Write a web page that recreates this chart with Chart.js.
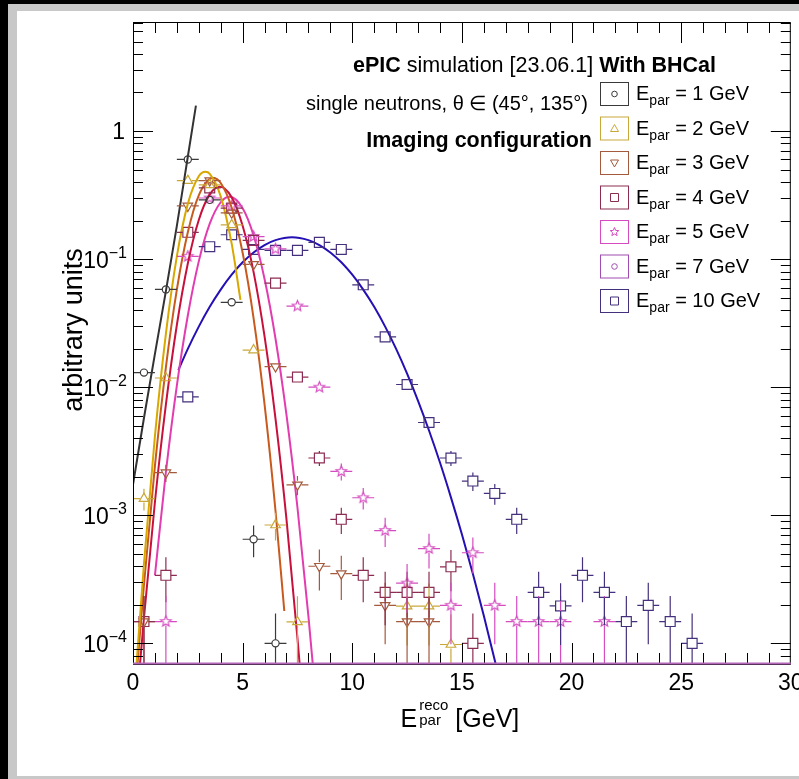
<!DOCTYPE html>
<html>
<head>
<meta charset="utf-8">
<title>Reconstructed neutron energy</title>
<script src="https://cdn.jsdelivr.net/npm/chart.js@4.4.0/dist/chart.umd.min.js"></script>
<style>
  html, body { margin: 0; padding: 0; background: #000; }
  #outer { position: absolute; left: 8px; top: 4px; width: 791px; height: 775px; background: #c8c8c8; }
  #inner { position: absolute; left: 17px; top: 11px; width: 782px; height: 765px; background: #fff; }
  #wrap { position: absolute; left: 0; top: 0; width: 799px; height: 779px; }
</style>
</head>
<body>
<div id="outer"></div>
<div id="inner"></div>
<div id="wrap"><canvas id="chart"></canvas></div>
<script>
// bin centres of the reconstructed energy histograms (1 GeV bins)
const BIN_CENTERS = [0.5, 1.5, 2.5, 3.5, 4.5, 5.5, 6.5, 7.5, 8.5, 9.5, 10.5, 11.5, 12.5,
  13.5, 14.5, 15.5, 16.5, 17.5, 18.5, 19.5, 20.5, 21.5, 22.5, 23.5, 24.5, 25.5];

// normalised bin contents, null = empty bin
const E1_VALUES = [0.013, 0.058, 0.60, 0.29, 0.046, 6.5e-4, 1.0e-4, null, null, null, null, null, null,
  null, null, null, null, null, null, null, null, null, null, null, null, null];
const E2_VALUES = [1.35e-3, 0.0118, 0.41, 0.38, 0.185, 0.0195, 8.4e-4, 1.47e-4, null, null, null, null, 1.95e-4,
  1.95e-4, 9.8e-5, null, null, null, null, null, null, null, null, null, null, null];
const E3_VALUES = [1.48e-4, 2.15e-3, 0.26, 0.41, 0.23, 0.091, 0.0145, 1.73e-3, 4.0e-4, 3.5e-4, null, 1.98e-4, 1.48e-4,
  1.48e-4, null, null, null, null, null, null, null, null, null, null, null, null];
const E4_VALUES = [1.48e-4, 3.4e-4, 0.162, 0.36, 0.25, 0.14, 0.065, 0.012, 2.8e-3, 9.3e-4, 3.4e-4, 2.5e-4, 2.5e-4,
  2.5e-4, 3.96e-4, 1.0e-4, null, null, null, null, null, null, null, null, null, null];
const E5_VALUES = [null, 1.48e-4, 0.105, 0.30, 0.26, 0.15, 0.12, 0.043, 0.010, 2.2e-3, 1.37e-3, 7.6e-4, 2.95e-4,
  5.5e-4, 1.98e-4, 5.1e-4, 1.98e-4, 1.48e-4, 1.48e-4, 1.48e-4, null, 1.48e-4, null, null, null, null];
const E7_VALUES = [];
const E10_VALUES = [null, null, 8.4e-3, 0.125, 0.155, 0.119, 0.117, 0.117, 0.135, 0.119, 0.063, 0.0247, 0.0105,
  5.3e-3, 2.8e-3, 1.85e-3, 1.48e-3, 9.3e-4, 2.5e-4, 1.96e-4, 3.4e-4, 2.5e-4, 1.48e-4, 1.98e-4, 1.48e-4, 1.0e-4];

// gaussian fit curves
const FIT1_X = [0, 0.5, 1.0, 1.5, 2.0, 2.5, 2.87];
const FIT1_Y = [1.74e-3, 5.75e-3, 0.0182, 0.0562, 0.182, 0.63, 1.58];
const FIT2_X = [0.1, 0.5, 1.0, 1.5, 2.0, 2.5, 3.0, 3.3, 3.5, 4.0, 4.5, 4.9];
const FIT2_Y = [4.9e-5, 4.2e-4, 4.15e-3, 0.0261, 0.105, 0.27, 0.443, 0.48, 0.463, 0.309, 0.132, 0.048];
const FIT3_X = [0.2, 0.5, 1.0, 1.5, 2.0, 2.5, 3.0, 3.65, 4.0, 4.5, 5.0, 5.5, 6.0, 6.5, 6.9];
const FIT3_Y = [6.7e-5, 2.87e-4, 2.43e-3, 0.0143, 0.0578, 0.162, 0.315, 0.43, 0.393, 0.252, 0.112, 0.0345, 7.35e-3, 1.08e-3, 1.79e-4];
const FIT4_X = [0.3, 0.5, 1.0, 1.5, 2.0, 2.5, 3.0, 3.5, 3.96, 4.5, 5.0, 5.5, 6.0, 6.5, 7.0, 7.5, 7.7];
const FIT4_Y = [6.3e-5, 1.58e-4, 1.27e-3, 7.3e-3, 0.0306, 0.0925, 0.202, 0.32, 0.367, 0.304, 0.182, 0.0792, 0.0249, 5.65e-3, 9.3e-4, 1.1e-4, 4.3e-5];
const FIT5_X = [1.0, 1.5, 2.0, 2.5, 3.0, 3.5, 4.0, 4.41, 5.0, 5.5, 6.0, 6.5, 7.0, 7.5, 8.0, 8.3];
const FIT5_Y = [3.4e-4, 2.17e-3, 0.0103, 0.0363, 0.096, 0.189, 0.278, 0.307, 0.25, 0.153, 0.07, 0.0239, 6.07e-3, 1.15e-3, 1.63e-4, 4.4e-5];
const FIT10_X = [2.07, 2.5, 3, 3.5, 4, 4.5, 5, 5.5, 6, 6.5, 7.25, 8, 8.5, 9, 9.5, 10, 10.5, 11, 11.5, 12,
  12.5, 13, 13.5, 14, 14.5, 15, 15.5, 16, 16.55];
const FIT10_Y = [0.0136, 0.0199, 0.0297, 0.0424, 0.0578, 0.0755, 0.0944, 0.1127, 0.1288, 0.1406, 0.148, 0.1406,
  0.1288, 0.1127, 0.0944, 0.0755, 0.0578, 0.0424, 0.0297, 0.0199, 0.01277, 7.83e-3, 4.59e-3, 2.58e-3,
  1.38e-3, 7.1e-4, 3.49e-4, 1.64e-4, 6.8e-5];

const ENERGY_LABELS = ['1', '2', '3', '4', '5', '7', '10'];
const X_TICKS = [0, 5, 10, 15, 20, 25, 30];
const Y_DECADES = [1e-4, 1e-3, 1e-2, 1e-1, 1];
const Y_DECADE_EXP = ['\u22124', '\u22123', '\u22122', '\u22121', ''];

// weight of one event, sets the size of the statistical error bars
const COUNT_WEIGHT = 5e-5;

const X_MIN = 0, X_MAX = 30;
const Y_MIN = 6.9e-5, Y_MAX = 7.1;

const FONT = '"Liberation Sans", Arial, Helvetica, sans-serif';

const SERIES = [
  { values: E1_VALUES, fitX: FIT1_X, fitY: FIT1_Y, marker: 'circle', color: '#3a3a3a', fit: '#333333' },
  { values: E2_VALUES, fitX: FIT2_X, fitY: FIT2_Y, marker: 'triangle', color: '#c9a83a', fit: '#d8a800' },
  { values: E3_VALUES, fitX: FIT3_X, fitY: FIT3_Y, marker: 'triangleDown', color: '#a45a3c', fit: '#c85a1e' },
  { values: E4_VALUES, fitX: FIT4_X, fitY: FIT4_Y, marker: 'rect', color: '#8c2c52', fit: '#c8103c' },
  { values: E5_VALUES, fitX: FIT5_X, fitY: FIT5_Y, marker: 'star', color: '#d44cc0', fit: '#e23cb0' },
  { values: E7_VALUES, fitX: null, fitY: null, marker: 'circle', color: '#a04cb0', fit: '#a04cb0' },
  { values: E10_VALUES, fitX: FIT10_X, fitY: FIT10_Y, marker: 'rect', color: '#44307c', fit: '#2410b4' }
];

// open five-pointed star used as point style
function starCanvas(color, r) {
  const c = document.createElement('canvas');
  const s = Math.ceil(2 * r + 4);
  c.width = s; c.height = s;
  const g = c.getContext('2d');
  g.strokeStyle = color;
  g.lineWidth = 1.2;
  g.beginPath();
  for (let k = 0; k < 10; k++) {
    const rr = k % 2 === 0 ? r : r * 0.45;
    const a = -Math.PI / 2 + k * Math.PI / 5;
    const px = s / 2 + rr * Math.cos(a), py = s / 2 + rr * Math.sin(a);
    if (k === 0) g.moveTo(px, py); else g.lineTo(px, py);
  }
  g.closePath();
  g.stroke();
  return c;
}

function markerOptions(s) {
  switch (s.marker) {
    case 'circle': return { pointStyle: 'circle', pointRadius: 3.6, gap: 3.6 };
    case 'triangle': return { pointStyle: 'triangle', pointRadius: 5.5, gap: 4 };
    case 'triangleDown': return { pointStyle: 'triangle', pointRotation: 180, pointRadius: 5.5, gap: 4 };
    case 'rect': return { pointStyle: 'rect', pointRadius: 7, gap: 5 };
    case 'star': return { pointStyle: starCanvas(s.color, 5.5), pointRadius: 5.5, gap: 4 };
  }
}

const datasets = [];
SERIES.forEach(s => {
  const m = markerOptions(s);
  const points = [];
  s.values.forEach((v, i) => { if (v !== null) points.push({ x: BIN_CENTERS[i], y: v }); });
  datasets.push({
    data: points,
    binned: true,
    gap: m.gap,
    pointStyle: m.pointStyle,
    pointRotation: m.pointRotation || 0,
    pointRadius: m.pointRadius,
    pointBorderWidth: 1.2,
    pointBorderColor: s.color,
    pointBackgroundColor: 'rgba(0,0,0,0)',
    borderColor: s.color,
    showLine: false
  });
  if (s.fitX) {
    datasets.push({
      data: s.fitX.map((x, i) => ({ x, y: s.fitY[i] })),
      showLine: true,
      borderColor: s.fit,
      borderWidth: 2,
      pointRadius: 0,
      cubicInterpolationMode: 'monotone'
    });
  }
});

// horizontal bin-width bars and vertical statistical errors, stopping at the marker
const errorBars = {
  id: 'errorBars',
  afterDatasetsDraw(chart) {
    const { ctx, chartArea: a, scales: { x, y } } = chart;
    ctx.save();
    ctx.beginPath();
    ctx.rect(a.left, a.top, a.right - a.left, a.bottom - a.top);
    ctx.clip();
    chart.data.datasets.forEach(ds => {
      if (!ds.binned) return;
      ctx.strokeStyle = ds.borderColor;
      ctx.lineWidth = 1.2;
      ds.data.forEach(p => {
        const px = x.getPixelForValue(p.x), py = y.getPixelForValue(p.y);
        const err = Math.sqrt(p.y * COUNT_WEIGHT);
        const xl = x.getPixelForValue(p.x - 0.5), xr = x.getPixelForValue(p.x + 0.5);
        const yt = y.getPixelForValue(p.y + err);
        const yb = p.y - err > 0 ? y.getPixelForValue(p.y - err) : a.bottom + 5;
        const g = ds.gap;
        ctx.beginPath();
        ctx.moveTo(xl, py); ctx.lineTo(px - g, py);
        ctx.moveTo(px + g, py); ctx.lineTo(xr, py);
        if (yt < py - g) { ctx.moveTo(px, py - g); ctx.lineTo(px, yt); }
        if (yb > py + g) { ctx.moveTo(px, py + g); ctx.lineTo(px, yb); }
        ctx.stroke();
      });
    });
    ctx.restore();
  }
};

// text made of runs with their own size, weight and vertical shift
function runWidth(ctx, runs) {
  let w = 0;
  runs.forEach(r => { ctx.font = (r.bold ? 'bold ' : '') + r.size + 'px ' + FONT; w += ctx.measureText(r.t).width; });
  return w;
}
function drawRuns(ctx, runs, x, y, align) {
  let cx = x;
  if (align === 'right') cx = x - runWidth(ctx, runs);
  if (align === 'center') cx = x - runWidth(ctx, runs) / 2;
  ctx.textAlign = 'left';
  ctx.textBaseline = 'alphabetic';
  runs.forEach(r => {
    ctx.font = (r.bold ? 'bold ' : '') + r.size + 'px ' + FONT;
    ctx.fillText(r.t, cx, y + (r.dy || 0));
    cx += ctx.measureText(r.t).width;
  });
  return cx;
}

function legendMarker(ctx, shape, cx, cy, color) {
  ctx.save();
  ctx.strokeStyle = color;
  ctx.lineWidth = 1;
  ctx.beginPath();
  if (shape === 'circle') {
    ctx.arc(cx, cy, 2.8, 0, Math.PI * 2);
  } else if (shape === 'triangle') {
    ctx.moveTo(cx, cy - 4); ctx.lineTo(cx + 4, cy + 3); ctx.lineTo(cx - 4, cy + 3); ctx.closePath();
  } else if (shape === 'triangleDown') {
    ctx.moveTo(cx, cy + 4); ctx.lineTo(cx + 4, cy - 3); ctx.lineTo(cx - 4, cy - 3); ctx.closePath();
  } else if (shape === 'rect') {
    ctx.rect(cx - 4, cy - 4, 8, 8);
  } else if (shape === 'star') {
    for (let k = 0; k < 10; k++) {
      const rr = k % 2 === 0 ? 4.5 : 2;
      const ang = -Math.PI / 2 + k * Math.PI / 5;
      const px = cx + rr * Math.cos(ang), py = cy + rr * Math.sin(ang);
      if (k === 0) ctx.moveTo(px, py); else ctx.lineTo(px, py);
    }
    ctx.closePath();
  }
  ctx.stroke();
  ctx.restore();
}

// frame with inward ticks on all sides, labels, titles and legend
const frameAndText = {
  id: 'frameAndText',
  afterDraw(chart) {
    const { ctx, chartArea: a, scales: { x, y } } = chart;
    ctx.save();
    ctx.strokeStyle = '#000';
    ctx.fillStyle = '#000';
    ctx.lineWidth = 1;
    ctx.strokeRect(a.left + 0.5, a.top + 0.5, a.right - a.left - 1, a.bottom - a.top);

    ctx.beginPath();
    for (let v = X_MIN + 1; v < X_MAX; v++) {
      const px = Math.round(x.getPixelForValue(v)) + 0.5;
      const len = v % 5 === 0 ? 21 : 11;
      ctx.moveTo(px, a.bottom); ctx.lineTo(px, a.bottom - len);
      ctx.moveTo(px, a.top); ctx.lineTo(px, a.top + len);
    }
    for (let e = -5; e <= 1; e++) {
      for (let m = 1; m <= 9; m++) {
        const v = m * Math.pow(10, e);
        if (v < Y_MIN || v > Y_MAX) continue;
        const py = Math.round(y.getPixelForValue(v)) + 0.5;
        const len = m === 1 ? 20 : 10;
        ctx.moveTo(a.left, py); ctx.lineTo(a.left + len, py);
        ctx.moveTo(a.right, py); ctx.lineTo(a.right - len, py);
      }
    }
    ctx.stroke();

    // empty bins sit on the lower edge
    ctx.strokeStyle = '#b466b8';
    ctx.lineWidth = 2;
    ctx.beginPath();
    ctx.moveTo(a.left, a.bottom - 0.5); ctx.lineTo(a.right, a.bottom - 0.5);
    ctx.stroke();

    // x tick labels
    ctx.fillStyle = '#000';
    X_TICKS.forEach(v => {
      drawRuns(ctx, [{ t: String(v), size: 23 }], x.getPixelForValue(v), a.bottom + 26, 'center');
    });
    // y tick labels
    Y_DECADES.forEach((v, i) => {
      const py = y.getPixelForValue(v);
      if (Y_DECADE_EXP[i]) {
        drawRuns(ctx, [{ t: '10', size: 23 }, { t: Y_DECADE_EXP[i], size: 16, dy: -10 }], 127, py + 9, 'right');
      } else {
        drawRuns(ctx, [{ t: '1', size: 23 }], 125, py + 8, 'right');
      }
    });

    // x title with stacked super- and subscript
    const cx = (a.left + a.right) / 2 - 2;
    ctx.font = '25px ' + FONT;
    const wE = ctx.measureText('E').width;
    ctx.font = '15px ' + FONT;
    const wS = Math.max(ctx.measureText('reco').width, ctx.measureText('par').width);
    ctx.font = '25px ' + FONT;
    const wG = ctx.measureText(' [GeV]').width;
    let tx = cx - (wE + 2 + wS + wG) / 2;
    drawRuns(ctx, [{ t: 'E', size: 25 }], tx, 727, 'left');
    drawRuns(ctx, [{ t: 'reco', size: 15 }], tx + wE + 2, 710, 'left');
    drawRuns(ctx, [{ t: 'par', size: 15 }], tx + wE + 2, 725, 'left');
    drawRuns(ctx, [{ t: ' [GeV]', size: 25 }], tx + wE + 2 + wS, 727, 'left');

    // y title
    ctx.save();
    ctx.translate(82, 330);
    ctx.rotate(-Math.PI / 2);
    drawRuns(ctx, [{ t: 'arbitrary units', size: 27 }], 0, 0, 'center');
    ctx.restore();

    // header lines
    drawRuns(ctx, [{ t: 'ePIC', size: 21.5, bold: true }, { t: ' simulation [23.06.1] ', size: 21.5 },
      { t: 'With BHCal', size: 21.5, bold: true }], 353, 72, 'left');
    drawRuns(ctx, [{ t: 'single neutrons, \u03b8 \u2208 (45\u00b0, 135\u00b0)', size: 20 }], 588, 110, 'right');
    drawRuns(ctx, [{ t: 'Imaging configuration', size: 21.5, bold: true }], 592, 147, 'right');

    // legend
    SERIES.forEach((s, i) => {
      const base = 100 + 34.5 * i;
      const by = base - 6;
      ctx.strokeStyle = s.color;
      ctx.lineWidth = 1;
      ctx.strokeRect(600.5, by - 11.5, 28, 23);
      legendMarker(ctx, s.marker, 614.5, by, s.color);
      ctx.fillStyle = '#000';
      let ex = drawRuns(ctx, [{ t: 'E', size: 20 }], 636, base, 'left');
      ex = drawRuns(ctx, [{ t: 'par', size: 14 }], ex, base + 5, 'left');
      drawRuns(ctx, [{ t: ' = ' + ENERGY_LABELS[i] + ' GeV', size: 20 }], ex, base, 'left');
    });
    ctx.restore();
  }
};

new Chart(document.getElementById('chart'), {
  type: 'scatter',
  data: { datasets },
  options: {
    responsive: true,
    maintainAspectRatio: false,
    animation: false,
    events: [],
    layout: { padding: { left: 133, top: 22, right: 2, bottom: 115 } },
    plugins: { legend: { display: false }, tooltip: { enabled: false } },
    scales: {
      x: { type: 'linear', min: X_MIN, max: X_MAX, display: false },
      y: { type: 'logarithmic', min: Y_MIN, max: Y_MAX, display: false }
    }
  },
  plugins: [errorBars, frameAndText]
});
</script>
</body>
</html>
